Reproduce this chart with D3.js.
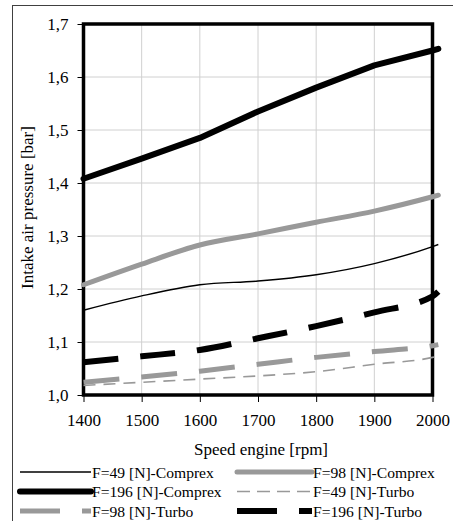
<!DOCTYPE html>
<html>
<head>
<meta charset="utf-8">
<script src="https://cdn.jsdelivr.net/npm/d3@7"></script>
<style>
  body { margin: 0; background: #fff; }
  svg { display: block; font-family: "Liberation Serif", "Times New Roman", serif; }
</style>
</head>
<body>
<div id="chart"></div>
<script>
// engine speed [rpm]
var speeds = [1400, 1500, 1600, 1700, 1800, 1900, 2000, 2010];
// intake air pressure [bar]
var comprex49  = [1.160, 1.187, 1.208, 1.215, 1.227, 1.248, 1.280, 1.284];
var comprex98  = [1.208, 1.247, 1.283, 1.304, 1.326, 1.347, 1.374, 1.377];
var comprex196 = [1.408, 1.446, 1.485, 1.535, 1.580, 1.622, 1.650, 1.653];
var turbo49    = [1.018, 1.024, 1.030, 1.036, 1.044, 1.058, 1.071, 1.074];
var turbo98    = [1.024, 1.034, 1.045, 1.058, 1.071, 1.082, 1.093, 1.095];
var turbo196   = [1.062, 1.073, 1.085, 1.107, 1.130, 1.156, 1.186, 1.195];

var xTicks = [1400, 1500, 1600, 1700, 1800, 1900, 2000];
var yTicks = [1.0, 1.1, 1.2, 1.3, 1.4, 1.5, 1.6, 1.7];

var series = [
  { name: 'F=49 [N]-Comprex',  values: comprex49,  color: '#000',    width: 1.4, dash: null,   lgDash: null,   cap: 'butt',  curve: d3.curveMonotoneX },
  { name: 'F=98 [N]-Comprex',  values: comprex98,  color: '#999999', width: 5,   dash: null,   lgDash: null,   cap: 'round', curve: d3.curveMonotoneX },
  { name: 'F=196 [N]-Comprex', values: comprex196, color: '#000',    width: 6,   dash: null,   lgDash: null,   cap: 'round', curve: d3.curveLinear },
  { name: 'F=49 [N]-Turbo',    values: turbo49,    color: '#999999', width: 1.6, dash: '12,8', lgDash: '13,7', cap: 'butt',  curve: d3.curveMonotoneX },
  { name: 'F=98 [N]-Turbo',    values: turbo98,    color: '#999999', width: 5,   dash: '36,22', lgDash: '40,22', cap: 'butt', curve: d3.curveMonotoneX },
  { name: 'F=196 [N]-Turbo',   values: turbo196,   color: '#000',    width: 6,   dash: '35,22', lgDash: '40,22', cap: 'butt', curve: d3.curveMonotoneX }
];

(function() {
  var W = 453, H = 521;
  var mLeft = 83.5, mRight = 432.5, mTop = 24, mBottom = 395;

  var svg = d3.select('#chart').append('svg').attr('width', W).attr('height', H);
  svg.append('rect').attr('width', W).attr('height', H).attr('fill', '#fff');

  // outer chart frame (cut off at right and bottom)
  svg.append('rect')
    .attr('x', 12.5).attr('y', 5.5).attr('width', W + 10).attr('height', H + 10)
    .attr('fill', 'none').attr('stroke', '#404040').attr('stroke-width', 1);

  var x = d3.scaleLinear().domain([1400, 2000]).range([mLeft, mRight]);
  var y = d3.scaleLinear().domain([1.0, 1.7]).range([mBottom, mTop]);

  // grid
  svg.append('g').selectAll('line').data(xTicks).enter().append('line')
    .attr('x1', function(d) { return x(d); }).attr('x2', function(d) { return x(d); })
    .attr('y1', mTop).attr('y2', mBottom)
    .attr('stroke', '#d0d0d0').attr('stroke-width', 1);
  svg.append('g').selectAll('line').data(yTicks).enter().append('line')
    .attr('x1', mLeft).attr('x2', mRight)
    .attr('y1', function(d) { return y(d); }).attr('y2', function(d) { return y(d); })
    .attr('stroke', '#d0d0d0').attr('stroke-width', 1);

  // axes
  var xAxis = d3.axisBottom(x).tickValues(xTicks).tickSize(7).tickPadding(12).tickFormat(d3.format('d'));
  var gx = svg.append('g').attr('transform', 'translate(0,' + mBottom + ')').call(xAxis);
  var yAxis = d3.axisLeft(y).tickValues(yTicks).tickSize(6).tickPadding(9)
    .tickFormat(function(d) { return d3.format('.1f')(d).replace('.', ','); });
  var gy = svg.append('g').attr('transform', 'translate(' + mLeft + ',0)').call(yAxis);
  [gx, gy].forEach(function(g) {
    g.select('.domain').remove();
    g.selectAll('.tick line').attr('stroke', '#000').attr('stroke-width', 1);
    g.selectAll('.tick text').attr('fill', '#000')
      .style('font-family', '"Liberation Serif", "Times New Roman", serif').style('font-size', '17px');
  });

  // plot frame
  svg.append('rect')
    .attr('x', mLeft).attr('y', mTop).attr('width', mRight - mLeft).attr('height', mBottom - mTop)
    .attr('fill', 'none').attr('stroke', '#000').attr('stroke-width', 3.5);

  // lines
  series.forEach(function(s) {
    var line = d3.line()
      .x(function(d, i) { return x(speeds[i]); })
      .y(function(d) { return y(d); })
      .curve(s.curve);
    svg.append('path')
      .datum(s.values)
      .attr('d', line)
      .attr('fill', 'none')
      .attr('stroke', s.color)
      .attr('stroke-width', s.width)
      .attr('stroke-linejoin', 'round')
      .attr('stroke-linecap', s.cap)
      .attr('stroke-dasharray', s.dash);
  });

  // axis titles
  svg.append('text')
    .attr('x', (mLeft + mRight) / 2 + 3).attr('y', 455)
    .attr('text-anchor', 'middle').style('font-size', '17px')
    .text('Speed engine [rpm]');
  svg.append('text')
    .attr('transform', 'translate(33,' + ((mTop + mBottom) / 2 - 2) + ') rotate(-90)')
    .attr('text-anchor', 'middle').style('font-size', '17px')
    .text('Intake air pressure [bar]');

  // legend
  var lgCols = [{ x1: 20, x2: 91 }, { x1: 237, x2: 312 }];
  var lgRows = [472, 491.5, 511];
  series.forEach(function(s, i) {
    var c = lgCols[i % 2], r = lgRows[Math.floor(i / 2)];
    svg.append('line')
      .attr('x1', c.x1).attr('x2', c.x2).attr('y1', r).attr('y2', r)
      .attr('stroke', s.color).attr('stroke-width', s.width)
      .attr('stroke-linecap', s.cap)
      .attr('stroke-dasharray', s.lgDash);
    svg.append('text')
      .attr('x', c.x2 + 1).attr('y', r + 5.5)
      .style('font-size', '15.6px')
      .text(s.name);
  });
})();
</script>
</body>
</html>
